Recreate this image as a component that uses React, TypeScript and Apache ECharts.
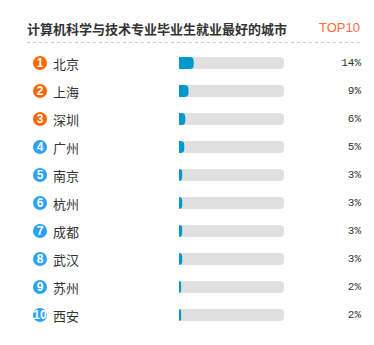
import React, { useEffect, useRef } from "react";
import * as echarts from "echarts";

const titleText = "计算机科学与技术专业毕业生就业最好的城市";
const topText = "TOP10";
const cities = ["北京", "上海", "深圳", "广州", "南京", "杭州", "成都", "武汉", "苏州", "西安"];
const values = [14, 9, 6, 5, 3, 3, 3, 3, 2, 2];
const percentLabels = ["14%", "9%", "6%", "5%", "3%", "3%", "3%", "3%", "2%", "2%"];

export default function App() {
  const ref = useRef<HTMLDivElement>(null);
  useEffect(() => {
    document.body.style.margin = "0";
    const chart = echarts.init(ref.current!, undefined, { renderer: "svg" });
    const cjk = "'Noto Sans CJK SC', 'Noto Sans', sans-serif";
    const badge = {
      width: 14, height: 14, borderRadius: 7,
      color: "#fff", align: "center", fontSize: 12, fontWeight: "bold",
      fontFamily: "Arial, 'Liberation Sans', sans-serif", lineHeight: 14,
    };
    chart.setOption({
      animation: false,
      backgroundColor: "#ffffff",
      title: [
        {
          text: titleText,
          left: 27,
          top: 22,
          padding: 0,
          textStyle: { fontSize: 13, fontWeight: "bold", color: "#333", fontFamily: cjk },
        },
        {
          text: topText,
          right: 14,
          top: 21,
          padding: 0,
          textStyle: { fontSize: 13, fontWeight: "normal", color: "#ff6a3d", fontFamily: "Arial, 'Liberation Sans', sans-serif" },
        },
      ],
      graphic: [
        {
          type: "line",
          shape: { x1: 27, y1: 42.5, x2: 361, y2: 42.5 },
          style: { stroke: "#cccccc", lineWidth: 1, lineDash: [3, 3] },
        },
      ],
      grid: { left: 179, top: 49, width: 105, height: 280 },
      xAxis: { type: "value", min: 0, max: 100, show: false },
      yAxis: [
        {
          type: "category",
          inverse: true,
          data: cities,
          axisLine: { show: false },
          axisTick: { show: false },
          splitLine: { show: false },
          axisLabel: {
            align: "left",
            margin: 146,
            formatter: (v: string, i: number) =>
              `{${i < 3 ? "o" : "b"}|${i + 1}}{name|${v}}`,
            rich: {
              o: { ...badge, backgroundColor: "#ff6600" },
              b: { ...badge, backgroundColor: "#2aa3f4" },
              name: { fontSize: 13, color: "#333", fontFamily: cjk, padding: [0, 0, 0, 6] },
            },
          },
        },
        {
          type: "category",
          inverse: true,
          position: "right",
          data: percentLabels,
          axisLine: { show: false },
          axisTick: { show: false },
          splitLine: { show: false },
          axisLabel: {
            align: "right",
            margin: 77,
            fontSize: 11,
            color: "#333",
            fontFamily: "'Liberation Mono', monospace",
          },
        },
      ],
      series: [
        {
          type: "bar",
          data: values,
          barWidth: 12,
          showBackground: true,
          backgroundStyle: { color: "#e0e0e0", borderRadius: 4 },
          itemStyle: { color: "#0099cc", borderRadius: [0, 4, 4, 0] },
        },
      ],
    });
    return () => chart.dispose();
  }, []);
  return <div ref={ref} style={{ width: 374, height: 345 }} />;
}
